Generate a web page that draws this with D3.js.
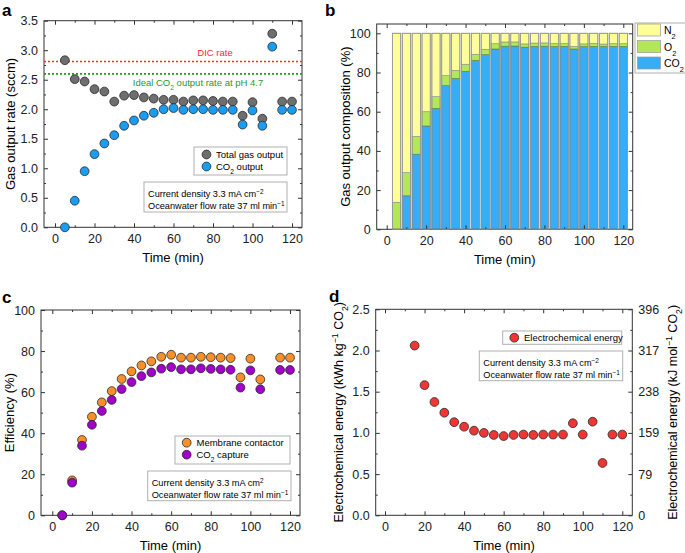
<!DOCTYPE html>
<html>
<head>
<meta charset="utf-8">
<script src="https://cdn.jsdelivr.net/npm/d3@7"></script>
<style>
  body { margin: 0; background: #fff; }
  svg { font-family: "Liberation Sans", Arial, sans-serif; }
  .tick text { font-size: 12.5px; fill: #222; }
  .tick line { stroke: #333; }
</style>
</head>
<body>
<div id="chart"></div>
<script>
// sampling times (min)
const times = [5, 10, 15, 20, 25, 30, 35, 40, 45, 50, 55, 60, 65, 70, 75, 80, 85, 90, 95, 100, 105, 110, 115, 120];

// a: gas output rate (sccm)
const totalGas = [2.83, 2.51, 2.47, 2.34, 2.30, 2.13, 2.23, 2.24, 2.20, 2.18, 2.16, 2.16, 2.13, 2.15, 2.15, 2.14, 2.13, 2.13, 1.89, 2.12, 1.84, 3.28, 2.13, 2.13];
const co2Output = [0.00, 0.45, 0.95, 1.24, 1.42, 1.56, 1.72, 1.81, 1.89, 1.94, 2.00, 2.02, 1.99, 2.00, 2.00, 1.99, 1.99, 1.99, 1.74, 1.98, 1.72, 3.06, 1.99, 1.99];
const dicRate = 2.81;
const idealRate = 2.60;

// b: composition (%)
const co2Pct = [0, 17.1, 38.3, 52.7, 61.7, 73.3, 77.0, 80.6, 86.2, 89.1, 92.0, 93.4, 93.5, 92.9, 93.3, 93.4, 93.2, 93.3, 92.0, 93.2, 93.3, 93.3, 93.3, 93.3];
const o2Pct = [13.8, 11.8, 9.1, 7.3, 6.0, 5.1, 4.1, 3.6, 3.1, 2.7, 2.7, 2.2, 2.1, 1.7, 1.7, 1.7, 1.6, 1.5, 1.3, 1.4, 1.6, 1.2, 1.4, 1.4];
const n2Pct = [86.2, 71.1, 52.6, 40.0, 32.3, 21.6, 18.9, 15.8, 10.7, 8.2, 5.3, 4.4, 4.4, 5.4, 5.0, 4.9, 5.2, 5.2, 6.7, 5.4, 5.1, 5.5, 5.3, 5.3];

// c: efficiency (%)
const membrane = [0, 17.0, 36.7, 48.0, 55.0, 60.5, 66.4, 70.1, 73.0, 75.0, 77.2, 78.2, 76.8, 76.8, 77.2, 77.0, 76.8, 76.6, 67.2, 76.3, 66.2, null, 76.8, 76.8];
const capture = [0, 15.9, 33.9, 44.1, 50.8, 56.2, 61.5, 64.9, 67.8, 69.6, 71.4, 72.2, 71.1, 71.1, 71.6, 71.3, 71.1, 70.9, 62.2, 70.6, 61.4, null, 70.8, 70.8];

// d: electrochemical energy (kWh kg-1 CO2)
const energy = [null, null, 2.06, 1.58, 1.375, 1.245, 1.13, 1.075, 1.027, 1.00, 0.975, 0.962, 0.975, 0.98, 0.975, 0.98, 0.98, 0.98, 1.117, 0.98, 1.136, 0.635, 0.98, 0.98];

// ticks
const timeTicks = [0, 20, 40, 60, 80, 100, 120];
const timeMinor = [10, 30, 50, 70, 90, 110];
const rateTicks = [0, 0.5, 1.0, 1.5, 2.0, 2.5, 3.0, 3.5];
const rateMinor = [0.25, 0.75, 1.25, 1.75, 2.25, 2.75, 3.25];
const pctTicks = [0, 20, 40, 60, 80, 100];
const pctMinor = [10, 30, 50, 70, 90];
const energyTicks = [0, 0.5, 1.0, 1.5, 2.0, 2.5];
const energyMinor = [0.25, 0.75, 1.25, 1.75, 2.25];
const energyRightLabels = ["0", "79", "159", "238", "317", "396"];

const svg = d3.select("#chart").append("svg")
    .attr("width", 685).attr("height", 553);

function rich(sel, parts) {
    parts.forEach(p => {
        const [t, kind] = Array.isArray(p) ? p : [p, null];
        const ts = sel.append("tspan").text(t);
        if (kind === "sub") ts.attr("baseline-shift", "sub").style("font-size", "70%");
        if (kind === "sup") ts.attr("baseline-shift", "super").style("font-size", "70%");
    });
    return sel;
}

// frame with inward ticks on all four sides
function frame(p) {
    const g = svg.append("g");
    const x = d3.scaleLinear().domain([0, 120]).range([p.x0, p.x120]);
    const y = d3.scaleLinear().domain(p.yDom).range(p.yRange);

    const clean = s => s.select(".domain").remove();

    g.append("g").attr("transform", `translate(0,${p.bottom})`)
        .call(d3.axisBottom(x).tickValues(timeTicks).tickSize(-4).tickPadding(7).tickFormat(d3.format("d")))
        .call(clean);
    g.append("g").attr("transform", `translate(0,${p.bottom})`)
        .call(d3.axisBottom(x).tickValues(timeMinor).tickSize(-2).tickFormat(""))
        .call(clean);
    g.append("g").attr("transform", `translate(0,${p.top})`)
        .call(d3.axisTop(x).tickValues(timeTicks).tickSize(-4).tickFormat(""))
        .call(clean);
    g.append("g").attr("transform", `translate(0,${p.top})`)
        .call(d3.axisTop(x).tickValues(timeMinor).tickSize(-2).tickFormat(""))
        .call(clean);

    g.append("g").attr("transform", `translate(${p.left},0)`)
        .call(d3.axisLeft(y).tickValues(p.yTicks).tickSize(-4).tickPadding(6).tickFormat(p.yFmt))
        .call(clean);
    g.append("g").attr("transform", `translate(${p.left},0)`)
        .call(d3.axisLeft(y).tickValues(p.yMinor).tickSize(-2).tickFormat(""))
        .call(clean);
    const right = d3.axisRight(y).tickValues(p.yTicks).tickSize(-4).tickPadding(6);
    right.tickFormat(p.rightLabels ? ((d, i) => p.rightLabels[i]) : "");
    g.append("g").attr("transform", `translate(${p.right},0)`).call(right).call(clean);
    g.append("g").attr("transform", `translate(${p.right},0)`)
        .call(d3.axisRight(y).tickValues(p.yMinor).tickSize(-2).tickFormat(""))
        .call(clean);

    g.append("rect")
        .attr("x", p.left).attr("y", p.top)
        .attr("width", p.right - p.left).attr("height", p.bottom - p.top)
        .attr("fill", "none").attr("stroke", "#333").attr("stroke-width", 1);

    g.append("text")
        .attr("x", (p.left + p.right) / 2).attr("y", p.bottom + 35)
        .attr("text-anchor", "middle").style("font-size", "13px")
        .text("Time (min)");

    g.append("text")
        .attr("x", p.letter[0]).attr("y", p.letter[1])
        .style("font-size", "17px").style("font-weight", "bold")
        .text(p.name);

    return { g, x, y };
}

function dots(g, x, y, vals, fill) {
    g.append("g").selectAll("circle")
        .data(times.map((t, i) => ({ t, v: vals[i] })).filter(d => d.v != null))
        .join("circle")
        .attr("cx", d => x(d.t)).attr("cy", d => y(d.v))
        .attr("r", 4.4)
        .attr("fill", fill).attr("stroke", "#2a2a2a").attr("stroke-width", 0.8);
}

function box(g, x0, y0, x1, y1) {
    g.append("rect").attr("x", x0).attr("y", y0)
        .attr("width", x1 - x0).attr("height", y1 - y0)
        .attr("fill", "#fff").attr("stroke", "#b0b0b0").attr("stroke-width", 1);
}

function conditionsBox(g, x0, y0, x1, y1, cdParts) {
    box(g, x0, y0, x1, y1);
    const t1 = g.append("text").attr("x", x0 + 4).attr("y", y0 + 14.5).style("font-size", "9.2px");
    rich(t1, cdParts);
    const t2 = g.append("text").attr("x", x0 + 4).attr("y", y0 + 26.5).style("font-size", "9.2px");
    rich(t2, ["Oceanwater flow rate 37 ml min", ["\u22121", "sup"]]);
}

// ---------- a ----------
{
    const { g, x, y } = frame({
        name: "a", letter: [2, 16],
        x0: 55, x120: 292, left: 44, right: 302, top: 20.7, bottom: 227.3,
        yDom: [0, 3.5], yRange: [227.3, 20.7],
        yTicks: rateTicks, yMinor: rateMinor, yFmt: d3.format(".1f")
    });

    g.append("line").attr("x1", 44).attr("x2", 302)
        .attr("y1", y(dicRate)).attr("y2", y(dicRate))
        .attr("stroke", "#ff2a2a").attr("stroke-width", 1.6).attr("stroke-dasharray", "2,2");
    g.append("line").attr("x1", 44).attr("x2", 302)
        .attr("y1", y(idealRate)).attr("y2", y(idealRate))
        .attr("stroke", "#1f9a1f").attr("stroke-width", 1.6).attr("stroke-dasharray", "2,2");
    g.append("text").attr("x", 215).attr("y", 56).attr("text-anchor", "middle")
        .style("font-size", "9.5px").attr("fill", "#ff2a2a").text("DIC rate");
    rich(g.append("text").attr("x", 198).attr("y", 85.5).attr("text-anchor", "middle")
        .style("font-size", "9.5px").attr("fill", "#1f9a1f"),
        ["Ideal CO", ["2", "sub"], " output rate at pH 4.7"]);

    dots(g, x, y, totalGas, "#6e6e6e");
    dots(g, x, y, co2Output, "#1a9cf0");

    box(g, 194, 147, 287, 175);
    g.append("circle").attr("cx", 206.5).attr("cy", 154.5).attr("r", 4.4)
        .attr("fill", "#6e6e6e").attr("stroke", "#2a2a2a").attr("stroke-width", 0.8);
    g.append("circle").attr("cx", 206.5).attr("cy", 166.5).attr("r", 4.4)
        .attr("fill", "#1a9cf0").attr("stroke", "#2a2a2a").attr("stroke-width", 0.8);
    g.append("text").attr("x", 216).attr("y", 158).style("font-size", "9.5px").text("Total gas output");
    rich(g.append("text").attr("x", 216).attr("y", 170).style("font-size", "9.5px"),
        ["CO", ["2", "sub"], " output"]);

    conditionsBox(g, 144, 182, 287, 212, ["Current density 3.3 mA cm", ["\u22122", "sup"]]);

    g.append("text").attr("transform", `translate(15,${(20.7 + 227.3) / 2}) rotate(-90)`)
        .attr("text-anchor", "middle").style("font-size", "13px")
        .text("Gas output rate (sccm)");
}

// ---------- b ----------
{
    const { g, x, y } = frame({
        name: "b", letter: [325, 16],
        x0: 386.7, x120: 623.3, left: 376.7, right: 632.7, top: 24, bottom: 229.3,
        yDom: [0, 100], yRange: [229.3, 33.3],
        yTicks: pctTicks, yMinor: pctMinor, yFmt: d3.format("d")
    });

    const rows = times.map((t, i) => ({ t, CO2: co2Pct[i], O2: o2Pct[i], N2: n2Pct[i] }));
    const stack = d3.stack().keys(["CO2", "O2", "N2"])(rows);
    const colors = { CO2: "#36adf7", O2: "#b3e65a", N2: "#ffff99" };
    const strokes = { CO2: "#2c6e9a", O2: "#6e8f34", N2: "#9a9a9a" };
    const bw = 4.2 * (x(1) - x(0));

    g.insert("g", ":first-child").selectAll("g")
        .data(stack).join("g")
        .attr("fill", s => colors[s.key])
        .attr("stroke", s => strokes[s.key]).attr("stroke-width", 0.7)
        .selectAll("rect")
        .data(s => s.filter(d => d[1] - d[0] > 0))
        .join("rect")
        .attr("x", d => x(d.data.t) - bw / 2)
        .attr("width", bw)
        .attr("y", d => y(d[1]))
        .attr("height", d => y(d[0]) - y(d[1]));

    // outer outline of each bar
    g.append("g").selectAll("rect").data(rows).join("rect")
        .attr("x", d => x(d.t) - bw / 2).attr("width", bw)
        .attr("y", y(100)).attr("height", y(0) - y(100))
        .attr("fill", "none").attr("stroke", "#999").attr("stroke-width", 0.9);

    // legend
    box(g, 635, 23, 690, 73);
    const leg = [["N", "N2", 24], ["O", "O2", 40.5], ["CO", "CO2", 57]];
    leg.forEach(([lab, key, yy]) => {
        g.append("rect").attr("x", 637.5).attr("y", yy).attr("width", 23).attr("height", 12)
            .attr("fill", colors[key]).attr("stroke", "#999").attr("stroke-width", 0.7);
        rich(g.append("text").attr("x", 664).attr("y", yy + 10).style("font-size", "10.5px"),
            [lab, ["2", "sub"]]);
    });

    g.append("text").attr("transform", `translate(350,${(24 + 229.3) / 2}) rotate(-90)`)
        .attr("text-anchor", "middle").style("font-size", "13px")
        .text("Gas output composition (%)");
}

// ---------- c ----------
{
    const { g, x, y } = frame({
        name: "c", letter: [2, 303],
        x0: 52.3, x120: 290, left: 41, right: 300, top: 310, bottom: 515.3,
        yDom: [0, 100], yRange: [515.3, 310],
        yTicks: pctTicks, yMinor: pctMinor, yFmt: d3.format("d")
    });

    dots(g, x, y, membrane, "#f7902a");
    dots(g, x, y, capture, "#a000c8");

    box(g, 175, 436, 290, 464);
    g.append("circle").attr("cx", 186.7).attr("cy", 442.7).attr("r", 4.4)
        .attr("fill", "#f7902a").attr("stroke", "#2a2a2a").attr("stroke-width", 0.8);
    g.append("circle").attr("cx", 186.7).attr("cy", 454.7).attr("r", 4.4)
        .attr("fill", "#a000c8").attr("stroke", "#2a2a2a").attr("stroke-width", 0.8);
    g.append("text").attr("x", 196.5).attr("y", 446.3).style("font-size", "9.5px").text("Membrane contactor");
    rich(g.append("text").attr("x", 196.5).attr("y", 458.3).style("font-size", "9.5px"),
        ["CO", ["2", "sub"], " capture"]);

    conditionsBox(g, 147.7, 471, 291, 500.7, ["Current density 3.3 mA cm", ["2", "sup"]]);

    g.append("text").attr("transform", `translate(14,${(310 + 515.3) / 2}) rotate(-90)`)
        .attr("text-anchor", "middle").style("font-size", "13px")
        .text("Efficiency (%)");
}

// ---------- d ----------
{
    const { g, x, y } = frame({
        name: "d", letter: [329, 302],
        x0: 385, x120: 622.3, left: 375.7, right: 632.3, top: 309.3, bottom: 515.3,
        yDom: [0, 2.5], yRange: [515.3, 309.3],
        yTicks: energyTicks, yMinor: energyMinor, yFmt: d3.format(".1f"),
        rightLabels: energyRightLabels
    });

    dots(g, x, y, energy, "#f03535");

    box(g, 502.7, 331, 621.7, 344.3);
    g.append("circle").attr("cx", 514.3).attr("cy", 337.7).attr("r", 4.4)
        .attr("fill", "#f03535").attr("stroke", "#2a2a2a").attr("stroke-width", 0.8);
    g.append("text").attr("x", 524).attr("y", 341.3).style("font-size", "9.5px").text("Electrochemical energy");

    conditionsBox(g, 479.3, 351, 622.7, 380.7, ["Current density 3.3 mA cm", ["\u22122", "sup"]]);

    rich(g.append("text").attr("transform", `translate(343,${(309.3 + 515.3) / 2}) rotate(-90)`)
        .attr("text-anchor", "middle").style("font-size", "12.5px"),
        ["Electrochemical energy (kWh kg", ["\u22121", "sup"], " CO", ["2", "sub"], ")"]);
    rich(g.append("text").attr("transform", `translate(677,${(309.3 + 515.3) / 2}) rotate(-90)`)
        .attr("text-anchor", "middle").style("font-size", "12.5px"),
        ["Electrochemical energy (kJ mol", ["\u22121", "sup"], " CO", ["2", "sub"], ")"]);
}
</script>
</body>
</html>
